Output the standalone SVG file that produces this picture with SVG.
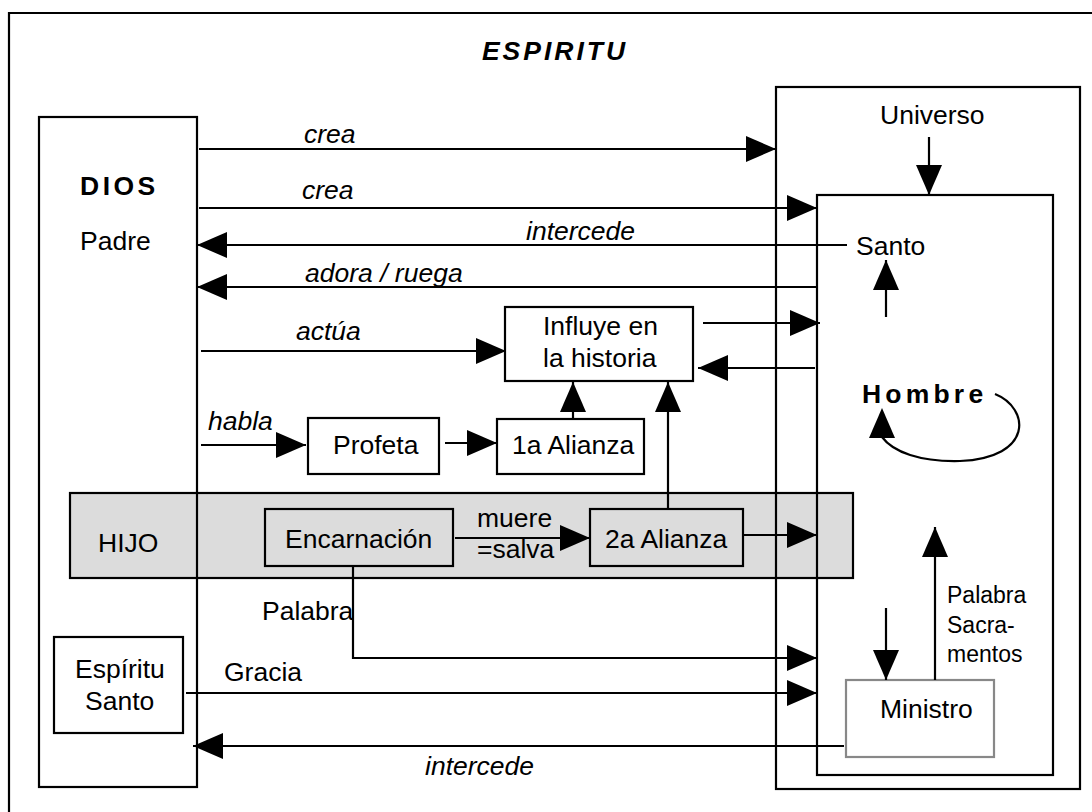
<svg xmlns="http://www.w3.org/2000/svg" width="1092" height="812" viewBox="0 0 1092 812">
  <style>
    text { font-family: "Liberation Sans", Arial, sans-serif; font-size: 26.5px; fill: #000; }
    .it { font-style: italic; }
    .bold { font-weight: bold; }
    .small { font-size: 23px; }
    .box { fill: #fff; stroke: #000; stroke-width: 2.2; }
    .frame { fill: none; stroke: #000; stroke-width: 2.2; }
    .gray { fill: #dcdcdc; stroke: #000; stroke-width: 2.2; }
    .conn { fill: none; stroke: #000; stroke-width: 2.2; }
    .arr { marker-end: url(#head); }
  </style>
  <defs>
    <marker id="head" markerUnits="userSpaceOnUse" markerWidth="30" markerHeight="26" refX="30" refY="13" orient="auto">
      <path d="M0,0 L30,13 L0,26 z" fill="#000"/>
    </marker>
  </defs>

  <rect width="1092" height="812" fill="#fff"/>

  <!-- outer frame of the Spirit -->
  <g id="espiritu">
    <path class="frame" d="M9,830 V13 H1100"/>
    <text x="555" y="60" class="it bold" text-anchor="middle" letter-spacing="3" font-size="25">ESPIRITU</text>
  </g>

  <!-- Son band -->
  <g id="hijo">
    <rect class="gray" x="70" y="493" width="783" height="85"/>
    <text x="98" y="552">HIJO</text>
  </g>

  <!-- Father -->
  <g id="dios">
    <rect class="frame" x="39" y="117" width="158" height="670"/>
    <text x="80" y="195" class="bold" letter-spacing="3.5" font-size="24">DIOS</text>
    <text x="80" y="250">Padre</text>
  </g>

  <!-- Universe -->
  <g id="universo">
    <rect class="frame" x="776" y="87" width="304" height="702"/>
    <text x="880" y="124">Universo</text>
  </g>

  <!-- Man -->
  <g id="hombre">
    <rect class="frame" x="817" y="195" width="236" height="580"/>
    <text x="856" y="255">Santo</text>
    <text x="862" y="403" class="bold" font-size="31" letter-spacing="4.2">Hombre</text>
  </g>

  <g id="influye">
    <rect class="box" x="505" y="307" width="188" height="74"/>
    <text x="543" y="335">Influye en</text>
    <text x="543" y="367">la historia</text>
  </g>

  <g id="profeta">
    <rect class="box" x="308" y="418" width="131" height="56"/>
    <text x="333" y="454">Profeta</text>
  </g>

  <g id="alianza1">
    <rect class="box" x="497" y="419" width="147" height="55"/>
    <text x="512" y="454">1a Alianza</text>
  </g>

  <g id="encarnacion">
    <rect class="gray" x="265" y="509" width="188" height="57"/>
    <text x="285" y="548">Encarnación</text>
  </g>

  <g id="alianza2">
    <rect class="gray" x="590" y="509" width="153" height="57"/>
    <text x="605" y="548">2a Alianza</text>
  </g>

  <g id="espiritu-santo">
    <rect class="box" x="54" y="637" width="129" height="96"/>
    <text x="75" y="678">Espíritu</text>
    <text x="85" y="710">Santo</text>
  </g>

  <g id="ministro">
    <rect x="846" y="680" width="148" height="77" fill="#fff" stroke="#888" stroke-width="2.2"/>
    <text x="880" y="718">Ministro</text>
  </g>

  <!-- connectors -->
  <g id="connectors">
    <path class="conn arr" d="M199,149 H776"/>
    <path class="conn arr" d="M199,208 H817"/>
    <path class="conn arr" d="M847,245 H197"/>
    <path class="conn arr" d="M817,287 H197"/>
    <path class="conn arr" d="M929,137 V195"/>
    <path class="conn arr" d="M886,317 V260"/>
    <path class="conn arr" d="M201,351 H506"/>
    <path class="conn arr" d="M703,323 H820"/>
    <path class="conn arr" d="M815,368 H698"/>
    <path class="conn arr" d="M201,445 H306"/>
    <path class="conn arr" d="M445,443 H497"/>
    <path class="conn arr" d="M573,419 V382"/>
    <path class="conn arr" d="M668,509 V382"/>
    <path class="conn arr" d="M455,538 H590"/>
    <path class="conn arr" d="M744,535 H817"/>
    <path class="conn arr" d="M353,566 V658 H817"/>
    <path class="conn arr" d="M186,693 H817"/>
    <path class="conn arr" d="M844,746 H193"/>
    <path class="conn arr" d="M886,608 V680"/>
    <path class="conn arr" d="M935,680 V527"/>
    <!-- loop of Hombre onto itself -->
    <path class="conn" d="M995,394 C1030,408 1034,458 960,461 C920,462 893,452 882,437"/>
    <polygon points="882,408 869,438 895,438" fill="#000"/>

    <text x="304" y="143" class="it">crea</text>
    <text x="302" y="199" class="it">crea</text>
    <text x="526" y="240" class="it">intercede</text>
    <text x="305" y="282" class="it">adora / ruega</text>
    <text x="296" y="340" class="it">actúa</text>
    <text x="208" y="430" class="it">habla</text>
    <text x="477" y="527">muere</text>
    <text x="477" y="558">=salva</text>
    <text x="262" y="620">Palabra</text>
    <text x="224" y="681">Gracia</text>
    <text x="425" y="775" class="it">intercede</text>
    <text x="947" y="603" class="small">Palabra</text>
    <text x="947" y="633" class="small">Sacra-</text>
    <text x="947" y="662" class="small">mentos</text>
  </g>
</svg>
